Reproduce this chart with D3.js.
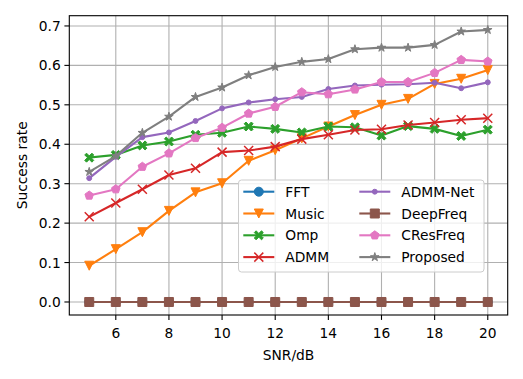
<!DOCTYPE html>
<html>
<head>
<meta charset="utf-8">
<script src="https://cdn.jsdelivr.net/npm/d3@7"></script>
<style>
  body { margin: 0; background: #fff; }
  svg text { font-family: "DejaVu Sans", sans-serif; fill: #000; }
</style>
</head>
<body>
<svg id="chart" width="523" height="379"></svg>
<script>
// SNR values (dB)
var snr = [5, 6, 7, 8, 9, 10, 11, 12, 13, 14, 15, 16, 17, 18, 19, 20];

// success rate per method
var fft      = [0, 0, 0, 0, 0, 0, 0, 0, 0, 0, 0, 0, 0, 0, 0, 0];
var music    = [0.092, 0.134, 0.177, 0.231, 0.278, 0.301, 0.358, 0.385, 0.415, 0.445, 0.474, 0.500, 0.515, 0.553, 0.566, 0.588];
var omp      = [0.366, 0.373, 0.397, 0.407, 0.424, 0.429, 0.445, 0.439, 0.430, 0.445, 0.443, 0.422, 0.446, 0.439, 0.421, 0.437];
var admm     = [0.216, 0.251, 0.286, 0.322, 0.339, 0.380, 0.384, 0.394, 0.413, 0.424, 0.436, 0.438, 0.449, 0.455, 0.462, 0.466];
var admmNet  = [0.314, 0.368, 0.418, 0.430, 0.459, 0.491, 0.506, 0.514, 0.520, 0.540, 0.549, 0.551, 0.552, 0.556, 0.542, 0.557];
var deepFreq = [0, 0, 0, 0, 0, 0, 0, 0, 0, 0, 0, 0, 0, 0, 0, 0];
var cresFreq = [0.270, 0.286, 0.343, 0.377, 0.416, 0.442, 0.478, 0.495, 0.532, 0.527, 0.539, 0.558, 0.558, 0.581, 0.614, 0.610];
var proposed = [0.330, 0.370, 0.429, 0.470, 0.520, 0.544, 0.575, 0.596, 0.609, 0.616, 0.641, 0.645, 0.645, 0.652, 0.686, 0.690];

var xTicks = [6, 8, 10, 12, 14, 16, 18, 20];
var yTicks = [0, 0.1, 0.2, 0.3, 0.4, 0.5, 0.6, 0.7];

var series = [
  { name: "FFT",       values: fft,      color: "#1f77b4", marker: "o" },
  { name: "Music",     values: music,    color: "#ff7f0e", marker: "v" },
  { name: "Omp",       values: omp,      color: "#2ca02c", marker: "X" },
  { name: "ADMM",      values: admm,     color: "#d62728", marker: "x" },
  { name: "ADMM-Net",  values: admmNet,  color: "#9467bd", marker: "." },
  { name: "DeepFreq",  values: deepFreq, color: "#8c564b", marker: "s" },
  { name: "CResFreq",  values: cresFreq, color: "#e377c2", marker: "p" },
  { name: "Proposed",  values: proposed, color: "#7f7f7f", marker: "*" }
];

var svg = d3.select("#chart");
var plot = { left: 69.3, right: 507.7, top: 15.7, bottom: 315 };
var ms = 9;          // marker size (px)
var fontSize = 13.8;

var x = d3.scaleLinear().domain([4.25, 20.75]).range([plot.left, plot.right]);
var y = d3.scaleLinear().domain([-0.033, 0.726]).range([plot.bottom, plot.top]);

// grid
var grid = svg.append("g");
grid.selectAll("line.gx").data(xTicks).enter().append("line")
  .attr("x1", d => x(d)).attr("x2", d => x(d))
  .attr("y1", plot.top).attr("y2", plot.bottom)
  .attr("stroke", "#b0b0b0").attr("stroke-width", 1.1);
grid.selectAll("line.gy").data(yTicks).enter().append("line")
  .attr("y1", d => y(d)).attr("y2", d => y(d))
  .attr("x1", plot.left).attr("x2", plot.right)
  .attr("stroke", "#b0b0b0").attr("stroke-width", 1.1);

// marker path builder, sizes follow matplotlib conventions
function markerPath(type, s) {
  var r = s / 2, p;
  switch (type) {
    case "o":
      return d3.symbol(d3.symbolCircle, Math.PI * r * r)();
    case ".":
      return d3.symbol(d3.symbolCircle, Math.PI * (r * 0.55) * (r * 0.55))();
    case "s":
      return "M" + (-r) + "," + (-r) + "H" + r + "V" + r + "H" + (-r) + "Z";
    case "v":
      return "M0," + r + "L" + (-r) + "," + (-r) + "L" + r + "," + (-r) + "Z";
    case "x":
      return "M" + (-r) + "," + (-r) + "L" + r + "," + r + "M" + (-r) + "," + r + "L" + r + "," + (-r);
    case "X":
      var a = r, t = r * 0.4;
      p = [[0, -t], [a - t, -a], [a, -a + t], [t, 0], [a, a - t], [a - t, a], [0, t],
           [-a + t, a], [-a, a - t], [-t, 0], [-a, -a + t], [-a + t, -a]];
      return "M" + p.map(q => q.join(",")).join("L") + "Z";
    case "p":
      p = d3.range(5).map(i => {
        var ang = -Math.PI / 2 + i * 2 * Math.PI / 5;
        return [r * Math.cos(ang), r * Math.sin(ang)];
      });
      return "M" + p.map(q => q.join(",")).join("L") + "Z";
    case "*":
      p = d3.range(10).map(i => {
        var ang = -Math.PI / 2 + i * Math.PI / 5, rr = i % 2 ? r * 0.382 : r;
        return [rr * Math.cos(ang), rr * Math.sin(ang)];
      });
      return "M" + p.map(q => q.join(",")).join("L") + "Z";
  }
}

function drawMarker(g, type, color, cx, cy) {
  var path = g.append("path").attr("d", markerPath(type, ms))
    .attr("transform", "translate(" + cx + "," + cy + ")");
  if (type === "x") {
    path.attr("fill", "none").attr("stroke", color).attr("stroke-width", 1.5);
  } else {
    path.attr("fill", color).attr("stroke", color).attr("stroke-width", 1)
      .attr("stroke-linejoin", "miter");
  }
}

// lines and markers
var line = d3.line().x((d, i) => x(snr[i])).y(d => y(d));
var lines = svg.append("g");
series.forEach(function(s) {
  var g = lines.append("g");
  g.append("path").datum(s.values).attr("d", line)
    .attr("fill", "none").attr("stroke", s.color).attr("stroke-width", 2.1)
    .attr("stroke-linejoin", "round").attr("stroke-linecap", "square");
  s.values.forEach(function(v, i) {
    drawMarker(g, s.marker, s.color, x(snr[i]), y(v));
  });
});

// spines
svg.append("rect")
  .attr("x", plot.left).attr("y", plot.top)
  .attr("width", plot.right - plot.left).attr("height", plot.bottom - plot.top)
  .attr("fill", "none").attr("stroke", "#000").attr("stroke-width", 1.1);

// ticks
var xAxis = svg.append("g");
xTicks.forEach(function(t) {
  xAxis.append("line").attr("x1", x(t)).attr("x2", x(t))
    .attr("y1", plot.bottom).attr("y2", plot.bottom + 4.9)
    .attr("stroke", "#000").attr("stroke-width", 1.1);
  xAxis.append("text").attr("x", x(t)).attr("y", plot.bottom + 23)
    .attr("text-anchor", "middle").attr("font-size", fontSize).text(t);
});
var yAxis = svg.append("g");
yTicks.forEach(function(t) {
  yAxis.append("line").attr("y1", y(t)).attr("y2", y(t))
    .attr("x1", plot.left - 4.9).attr("x2", plot.left)
    .attr("stroke", "#000").attr("stroke-width", 1.1);
  yAxis.append("text").attr("x", plot.left - 8.5).attr("y", y(t) + 5)
    .attr("text-anchor", "end").attr("font-size", fontSize).text(d3.format(".1f")(t));
});

// axis labels
svg.append("text")
  .attr("x", (plot.left + plot.right) / 2).attr("y", 360)
  .attr("text-anchor", "middle").attr("font-size", fontSize).text("SNR/dB");
svg.append("text")
  .attr("transform", "translate(27," + ((plot.top + plot.bottom) / 2) + ") rotate(-90)")
  .attr("text-anchor", "middle").attr("font-size", fontSize).text("Success rate");

// legend, two columns
var legend = svg.append("g");
legend.append("rect")
  .attr("x", 238.5).attr("y", 180).attr("width", 245.5).attr("height", 92)
  .attr("rx", 3).attr("fill", "#fff").attr("fill-opacity", 0.8)
  .attr("stroke", "#cccccc").attr("stroke-width", 1);

var colX = [243.3, 359.3], rowY0 = 191.7, rowH = 21.8, handleLen = 31, textGap = 11;
series.forEach(function(s, i) {
  var col = Math.floor(i / 4), row = i % 4;
  var lx = colX[col], ly = rowY0 + row * rowH;
  var g = legend.append("g");
  g.append("line").attr("x1", lx).attr("x2", lx + handleLen)
    .attr("y1", ly).attr("y2", ly)
    .attr("stroke", s.color).attr("stroke-width", 2.1);
  drawMarker(g, s.marker, s.color, lx + handleLen / 2, ly);
  g.append("text").attr("x", lx + handleLen + textGap).attr("y", ly + 5)
    .attr("font-size", fontSize).text(s.name);
});
</script>
</body>
</html>
